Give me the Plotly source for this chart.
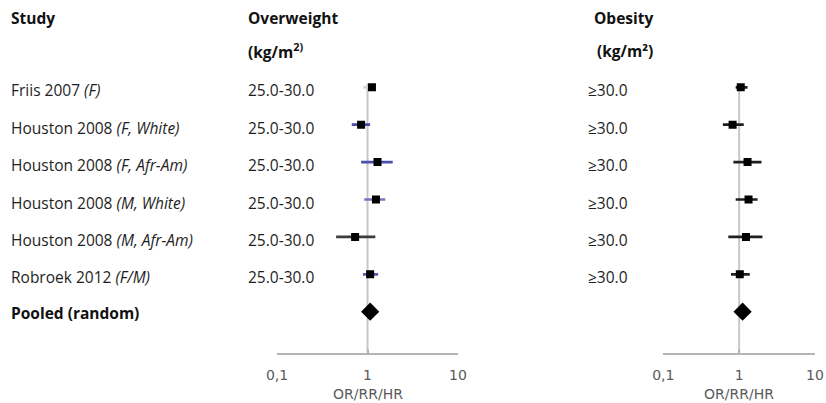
import plotly.graph_objects as go

studies = ["Friis 2007 <i>(F)</i>", "Houston 2008 <i>(F, White)</i>", "Houston 2008 <i>(F, Afr-Am)</i>",
           "Houston 2008 <i>(M, White)</i>", "Houston 2008 <i>(M, Afr-Am)</i>", "Robroek 2012 <i>(F/M)</i>"]
pooled_label = "<b>Pooled (random)</b>"
ow_range = ["25.0-30.0"] * 6
ob_range = ["≥30.0"] * 6

ow_est = [1.12, 0.85, 1.29, 1.24, 0.73, 1.07]
ow_lo = [0.90, 0.67, 0.85, 0.92, 0.45, 0.89]
ow_hi = [1.15, 1.07, 1.90, 1.57, 1.22, 1.31]
ow_pooled = 1.07

ob_est = [1.05, 0.82, 1.29, 1.33, 1.23, 1.02]
ob_lo = [0.90, 0.61, 0.84, 0.90, 0.72, 0.78]
ob_hi = [1.29, 1.15, 1.97, 1.75, 2.03, 1.38]
ob_pooled = 1.11

ow_ci_colors = ["#d4d4d4", "#4a4aa8", "#4e4eb0", "#7474bc", "#3c3c3c", "#5a5ab2"]
ob_ci_colors = ["#202020"] * 6

tick_vals = [0.1, 1, 10]
tick_text = ["0,1", "1", "10"]

W, H = 826, 403
rows = list(range(6))
pooled_row = 6

fig = go.Figure()

def add_panel(xa, est, lo, hi, colors, pooled):
    fig.add_trace(go.Scatter(x=[1, 1], y=[-0.1, 7.096], mode="lines", xaxis=xa, yaxis="y",
                             line=dict(color="#c8c8c8", width=2), hoverinfo="skip", showlegend=False))
    for i in rows:
        fig.add_trace(go.Scatter(x=[lo[i], hi[i]], y=[i, i], mode="lines", xaxis=xa, yaxis="y",
                                 line=dict(color=colors[i], width=2.7), hoverinfo="skip", showlegend=False))
    fig.add_trace(go.Scatter(x=est, y=rows, mode="markers", xaxis=xa, yaxis="y",
                             marker=dict(symbol="square", size=8, color="black"), showlegend=False))
    fig.add_trace(go.Scatter(x=[pooled], y=[pooled_row], mode="markers", xaxis=xa, yaxis="y",
                             marker=dict(symbol="diamond", size=14, color="black"), showlegend=False))

add_panel("x", ow_est, ow_lo, ow_hi, ow_ci_colors, ow_pooled)
add_panel("x2", ob_est, ob_lo, ob_hi, ob_ci_colors, ob_pooled)

axis_common = dict(type="log", range=[-1, 1], showline=True, linecolor="#b4b4b4", linewidth=1.5,
                   ticks="inside", ticklen=4, tickcolor="#b4b4b4", tickwidth=1.5,
                   tickvals=tick_vals, ticktext=tick_text, showgrid=False, zeroline=False,
                   tickfont=dict(family="DejaVu Sans", size=14, color="#5a5a5a"),
                   ticklabelstandoff=9, fixedrange=True, anchor="y", automargin=False)

annotations = []
body_font = dict(family="Open Sans", size=15.5, color="#1e1e1e")
bold_font = dict(family="Open Sans", size=15.5, color="#111111")

def px(x):
    return x / W

def py(y):
    return 1 - y / H

for i in rows:
    annotations.append(dict(text=studies[i], x=px(9), xref="paper", y=i, yref="y", yshift=-3,
                            xanchor="left", showarrow=False, font=body_font))
    annotations.append(dict(text=ow_range[i], x=px(246), xref="paper", y=i, yref="y", yshift=-3,
                            xanchor="left", showarrow=False, font=body_font))
    annotations.append(dict(text=ob_range[i], x=px(586), xref="paper", y=i, yref="y", yshift=-3,
                            xanchor="left", showarrow=False, font=body_font))
annotations.append(dict(text=pooled_label, x=px(9), xref="paper", y=pooled_row, yref="y", yshift=-1,
                        xanchor="left", showarrow=False, font=bold_font))

headers = [("<b>Study</b>", 9, 18), ("<b>Overweight</b>", 246, 18), ("<b>(kg/m<sup>2)</sup></b>", 246, 51),
           ("<b>Obesity</b>", 592, 18), ("<b>(kg/m²)</b>", 595, 51)]
for t, x, y in headers:
    annotations.append(dict(text=t, x=px(x), xref="paper", y=py(y), yref="paper",
                            xanchor="left", yanchor="middle", showarrow=False, font=bold_font))

for xa in ["x", "x2"]:
    annotations.append(dict(text="OR/RR/HR", x=0.5, xref=f"{xa} domain", y=py(394), yref="paper",
                            xanchor="center", yanchor="middle", showarrow=False,
                            font=dict(family="DejaVu Sans", size=14, color="#5a5a5a")))

fig.update_layout(
    width=W, height=H, margin=dict(l=0, r=0, t=0, b=0, autoexpand=False),
    paper_bgcolor="white", plot_bgcolor="white",
    xaxis=dict(domain=[277 / W, 458 / W], **axis_common),
    xaxis2=dict(domain=[663.3 / W, 815 / W], **axis_common),
    yaxis=dict(range=[7.096, -0.195], domain=[1 - 352.7 / H, 1 - 80 / H], visible=False, fixedrange=True),
    annotations=annotations,
    showlegend=False,
)

fig.write_html("out.html", config={"displayModeBar": False})
